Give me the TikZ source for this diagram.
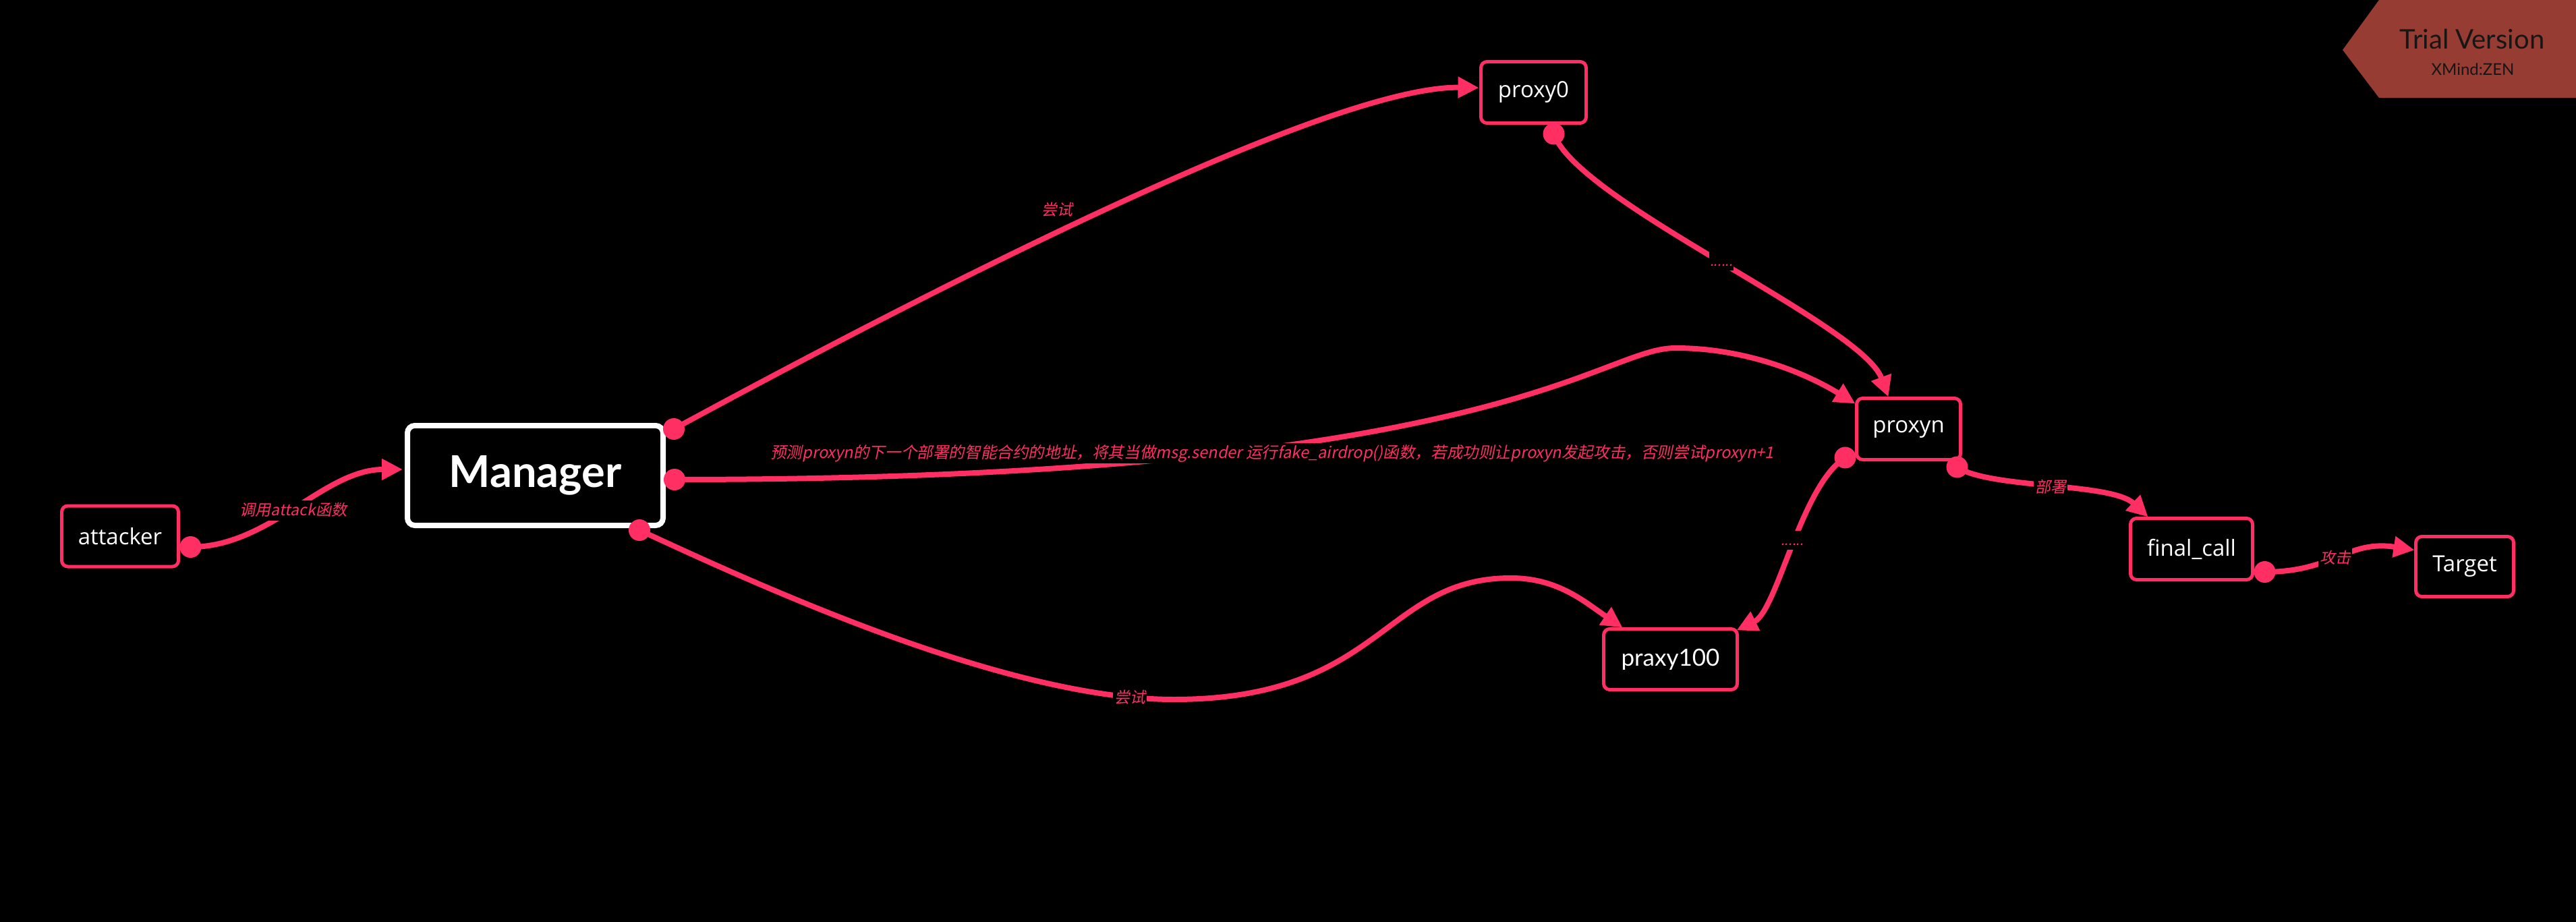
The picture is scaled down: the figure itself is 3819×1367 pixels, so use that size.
\documentclass[tikz,border=0pt]{standalone}
\usepackage{fontspec}
\setmainfont{Open Sans}
\newfontfamily\latofont{Lato}
\newfontfamily\cjk[FakeSlant=0.2]{Noto Sans CJK SC}
\usetikzlibrary{arrows.meta,calc}
\definecolor{pk}{RGB}{255,46,99}
\definecolor{banner}{RGB}{150,60,50}
\definecolor{bannertext}{RGB}{22,22,22}
\begin{document}
\begin{tikzpicture}[x=1pt,y=-1pt,
  box/.style={draw=pk, line width=5pt, rounded corners=9pt, fill=black, text=white,
    font=\fontsize{33}{40}\selectfont, inner sep=0pt, outer sep=0pt},
  conn/.style={draw=pk, line width=8pt, -{Triangle[length=31pt,width=30pt]}},
  lab/.style={fill=black, text=pk, font=\cjk\fontsize{23}{28}\selectfont, inner sep=2pt,
    text height=20pt, text depth=6pt},
  dlab/.style={fill=black, text=pk, font=\cjk\fontsize{20}{24}\selectfont, inner sep=1pt,
    text height=20pt, text depth=6pt}]
\path[use as bounding box, fill=black] (0,0) rectangle (3819,1367);

% banner
\fill[banner] (3473,74) -- (3527,0) -- (3819,0) -- (3819,145) -- (3527,145) -- cycle;
\node[anchor=base, text=bannertext, font=\latofont\fontsize{40}{48}\selectfont, inner sep=0pt] (trial) at (3665,73) {Trial Version};
\node[anchor=base, text=bannertext, font=\latofont\fontsize{24}{28}\selectfont, inner sep=0pt] (xmind) at (3666,112) {XMind:ZEN};

% nodes
\node[box, minimum width=173pt, minimum height=90pt] (attacker) at (178,795) {attacker};
\node[box, draw=white, line width=8pt, rounded corners=11pt, minimum width=379pt, minimum height=148pt,
  font=\latofont\bfseries\fontsize{65}{72}\selectfont] (mgr) at (793.5,705) {Manager};
\node[box, minimum width=156pt, minimum height=91pt] (proxy0) at (2273.5,137) {proxy0};
\node[box, minimum width=154pt, minimum height=91pt] (proxyn) at (2829.5,636) {proxyn};
\node[box, minimum width=181pt, minimum height=91pt] (final) at (3249,814) {final\_call};
\node[box, minimum width=145pt, minimum height=89pt] (target) at (3654,840) {Target};
\node[box, minimum width=198pt, minimum height=90pt, font=\latofont\fontsize{35}{42}\selectfont] (praxy) at (2476.5,977.5) {praxy100};

% connector start points
\coordinate (dAtt) at ($(attacker.east)+(18,16)$);
\coordinate (dMgrA) at ($(mgr.north east)+(16,5)$);
\coordinate (dMgrB) at ($(mgr.east)+(17,6)$);
\coordinate (dMgrC) at ($(mgr.south east)+(-35,7)$);
\coordinate (dP0) at ($(proxy0.south)+(30,16)$);
\coordinate (dPnL) at ($(proxyn.south west)+(-17,-3)$);
\coordinate (dPnR) at ($(proxyn.south east)+(-5,11)$);
\coordinate (dFc) at ($(final.east)+(18,34)$);

% connectors
\draw[conn] (dAtt) .. controls (400,811) and (480,696) .. ($(mgr.west)+(-7,-9)$);
\draw[conn] (dMgrA) .. controls (1250,500) and (1950,127) .. ($(proxy0.west)+(-3,-7)$);
\draw[conn] (dMgrB) .. controls (2230,711) and (2370,516) .. (2484,516)
  .. controls (2590,516) and (2680,555) .. ($(proxyn.north west)+(-2,8)$);
\draw[conn] (dMgrC) .. controls (1150,880) and (1500,1037) .. (1740,1037)
  .. controls (2050,1037) and (2050,857) .. (2240,857)
  .. controls (2310,857) and (2350,893) .. ($(praxy.north west)+(28,-2)$);
\draw[conn] (dP0) .. controls (2340,300) and (2760,480) .. ($(proxyn.north)+(-30,-2)$);
\draw[conn] (dPnL) .. controls (2670,720) and (2635,905) .. ($(praxy.north east)+(-1,2)$);
\draw[conn] (dPnR) .. controls (2950,725) and (3130,715) .. ($(final.north west)+(26,-2)$);
\draw[conn] (dFc) .. controls (3460,848) and (3480,800) .. ($(target.north west)+(-2,20)$);

% dots
\foreach \d in {dAtt,dMgrA,dMgrB,dMgrC,dP0,dPnL,dPnR,dFc}
  \fill[pk] (\d) circle[radius=16pt];

% labels
\node[lab] (l1) at (435,757) {调用attack函数};
\node[lab] (l2) at (1567,312) {尝试};
\node[lab] (l3) at (1675,1035) {尝试};
\node[lab, font=\cjk\fontsize{23.6}{28}\selectfont] (l4) at (1886,672) {预测proxyn的下一个部署的智能合约的地址，将其当做msg.sender 运行fake\_airdrop()函数，若成功则让proxyn发起攻击，否则尝试proxyn+1};
\node[lab] (l5) at (3040,723) {部署};
\node[lab] (l6) at (3462,828) {攻击};
\node[dlab] (l7) at (2552,387) {......};
\node[dlab] (l8) at (2657,801) {......};
\end{tikzpicture}
\end{document}
